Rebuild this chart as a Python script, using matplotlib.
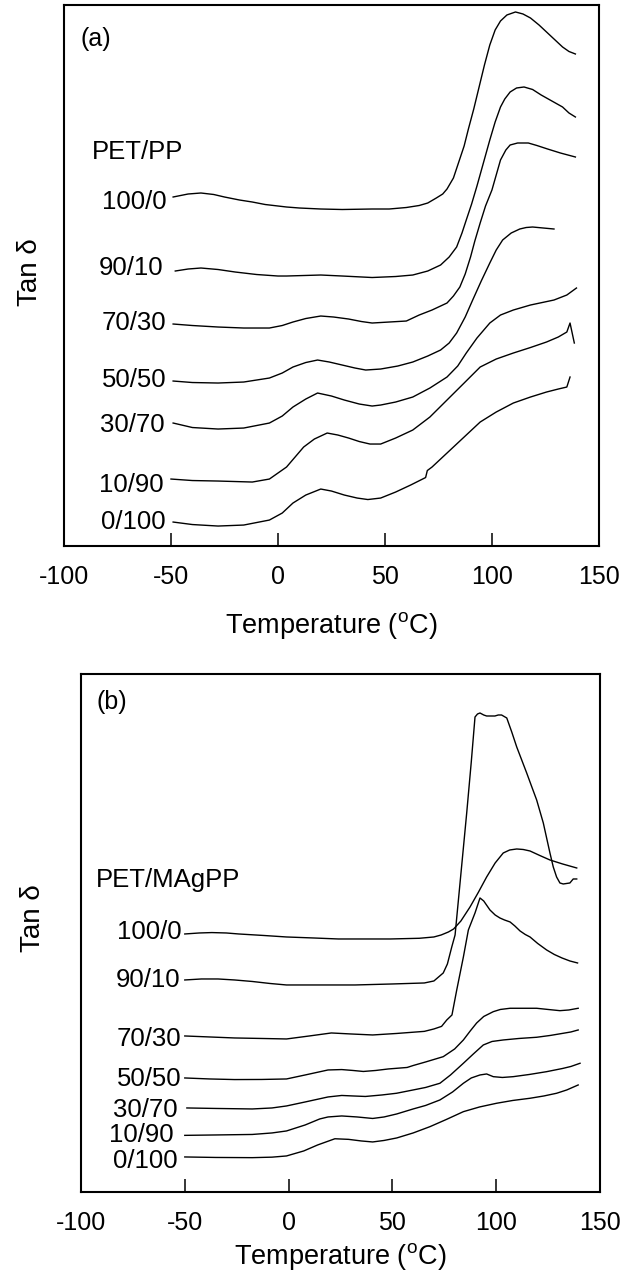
import numpy as np
import matplotlib
matplotlib.use('Agg')
import matplotlib.pyplot as plt

plt.rcParams['font.family'] = ['Liberation Sans', 'DejaVu Sans']
plt.rcParams['mathtext.fontset'] = 'custom'
plt.rcParams['mathtext.rm'] = 'Liberation Sans'
plt.rcParams['axes.unicode_minus'] = False

blends = ['100/0', '90/10', '70/30', '50/50', '30/70', '10/90', '0/100']

# (a) PET/PP  -- temperature (C) and offset tan delta (arbitrary units)
temp_a = [
    [-49, -42, -36, -30, -25, -18, -12, -6, 0, 4, 10, 20, 30, 44, 52, 60, 66, 70, 74, 77, 79, 82,
     84.5, 87, 89, 91.5, 94, 96.5, 99, 101.5, 104, 107, 111, 114.5, 118, 122, 126, 130, 133, 136, 139],
    [-48, -42, -36, -28, -20, -10, 0, 4, 12, 20, 30, 44, 55, 63, 70, 76, 80, 83.5, 86, 88, 90.5,
     93, 96, 99, 101.5, 104, 106, 108.5, 111.5, 115, 119, 123, 128, 133, 136, 139],
    [-49, -40, -28, -16, -4, 2, 7, 13, 20, 26, 33, 39, 44, 52, 60, 66, 72, 79, 82, 85, 87.5, 90,
     92, 94.5, 97, 100, 102, 104, 106.5, 108.5, 112, 117, 121, 126, 132, 139],
    [-49, -40, -28, -16, -4, 2, 7, 13, 18.5, 24, 30, 36, 41, 48, 56, 63, 70, 76, 80, 83.5, 87.5,
     91, 95, 99, 102, 105, 109, 113, 116, 119, 124, 129],
    [-49, -40, -28, -16, -4, 2, 7, 13, 18.5, 25, 31, 38, 44, 48, 55, 63, 71, 79, 84, 88, 93, 99,
     104, 110, 118, 129, 135, 139.5],
    [-50, -40, -28, -12, -4, 4, 8, 12, 17, 23, 28, 33, 38, 43, 48, 55, 63, 71, 79, 87, 94.5, 102,
     110, 118, 125.5, 131, 135, 136.5, 138.5],
    [-49, -40, -28, -16, -4, 2, 7, 13, 20, 25, 31, 37, 42, 48, 55, 62, 69, 69.8, 72, 79, 87, 94.5,
     102, 110, 118, 125.5, 131, 135, 136.5],
]
tand_a = [
    [349, 352, 353, 351.5, 349, 346, 344, 341.5, 340, 339, 338, 337, 336.5, 337, 337, 338.5, 340.5,
     343, 348, 352, 357, 368, 384, 400, 417, 437, 459, 481, 501, 516, 525, 531, 534, 532, 528, 521,
     513, 505, 499, 494.5, 492],
    [275, 277, 278, 276.5, 274, 271.5, 270, 270, 270.5, 271, 270, 268.5, 269.5, 271, 275, 281, 289,
     299, 313, 326, 342, 360, 383, 406, 424, 439, 447, 454, 458, 459, 456.5, 451, 445, 439, 433, 429],
    [222, 220.5, 219, 218, 218, 220.5, 224, 227.5, 230, 229, 227, 224.5, 223, 224, 225, 231, 236,
     243, 250, 259, 272, 289, 305, 323, 340, 356, 371, 386, 396, 401, 403, 403, 400.5, 397, 393, 389],
    [165, 163.5, 163, 164, 168, 173, 179, 183.5, 186, 184, 181, 178, 176, 177, 180, 184, 190, 196,
     203, 213, 229, 246, 265, 283, 296, 306, 313, 317, 318.5, 319, 318, 317],
    [123, 118.5, 117, 118, 123, 130, 139, 147, 153, 150, 146, 142, 140, 141, 144, 149, 158, 169,
     180, 193, 208, 223, 231, 236, 241, 246, 251, 258],
    [67, 65.5, 65, 64, 67, 79, 89, 99, 107, 113, 111, 108, 104.5, 102, 102, 108, 116, 129, 146, 163,
     179, 187, 193, 198.5, 204, 209, 214, 223, 203],
    [24, 21.5, 20, 21, 26, 33, 43, 51, 57, 55, 51, 48, 46.5, 48, 54, 61, 68.5, 75.5, 79, 93, 109,
     124, 134, 143, 149, 154, 157, 159, 169],
]

# (b) PET/MAgPP
temp_b = [
    [-50, -43, -37, -30, -24, -12, -1, 12, 24, 36, 49, 63, 70, 73.5, 77, 79.5, 83, 87.4, 91.5, 95.4,
     99.5, 103.4, 106.5, 109.9, 113, 116.3, 121, 125.9, 132, 138.8],
    [-50, -42, -34, -26, -17.5, -9, -1, 15, 32, 50, 65.4, 70, 74.5, 76.5, 78.6, 80.2, 83, 85.8, 88,
     89.8, 91, 92.2, 94, 95.4, 97.5, 99.4, 101, 102.6, 105.1, 107.5, 109.9, 112.3, 114.7, 117, 119.5,
     122.7, 125.9, 127.5, 129.1, 130.7, 132.3, 135.5, 137.1, 138.8],
    [-50, -38, -26, -13, -1, 10, 20.6, 30, 40.5, 52, 65.4, 70, 73.7, 76.2, 78.7, 81, 84.2, 86.6,
     89.8, 92.2, 94, 97, 99.5, 101.8, 104, 106.7, 109, 111.5, 114, 116.3, 120, 124.3, 128, 131.7,
     135.5, 139.2],
    [-50, -38, -26, -13, -1, 8, 19, 25.6, 31, 36, 42, 48, 57.1, 60.1, 66, 74.5, 80, 84.2, 87.5,
     90.6, 94, 98.6, 102, 106.7, 113, 119.5, 125, 130.7, 135, 139.5],
    [-49, -35, -17.5, -8, -1, 8, 19, 25.6, 31, 37, 45, 52, 60, 66, 72.9, 78, 84.2, 89, 93.8, 98,
     103.4, 111, 119.5, 126, 132.3, 136, 139.5],
    [-50, -35, -17.5, -8, -1, 8, 15, 19, 25.6, 33, 40.5, 46, 52.1, 60, 66, 72.9, 79, 84.2, 88, 92.2,
     95.4, 98.6, 103, 108.2, 116, 124.3, 132, 136, 140.4],
    [-50, -35, -17.5, -8, -1, 7.3, 14, 22.3, 28.9, 35, 40.5, 46, 52.1, 60, 68.1, 76, 84.2, 92, 100.2,
     108, 116.3, 123, 129.1, 134, 139.5],
]
tand_b = [
    [258, 259, 259.4, 259, 258, 256.5, 255, 254, 253, 253, 253, 253.7, 255, 257, 260, 263, 271, 285,
     300, 315, 329, 339, 342, 343, 342.5, 341, 336.5, 332, 328, 324],
    [212, 213, 213, 212, 210.5, 208.5, 207, 207, 207, 208, 209, 211, 219, 228, 245, 257, 318, 379,
     430, 475, 478, 479, 477, 476, 476, 476, 477, 477, 474, 460, 445, 432, 419, 406, 392, 369, 339,
     325, 315, 309, 308, 309, 313, 313],
    [156, 155, 154, 153.5, 153, 156, 159, 158, 157, 158.5, 160.6, 163, 165.6, 172, 177, 202, 235,
     262, 279, 294, 291, 282, 277, 274, 272, 270, 266, 261, 257.5, 255, 248.5, 242, 237.5, 234, 231,
     229],
    [114, 113, 112.4, 112.5, 113, 117, 122, 122.4, 121.5, 120.5, 121.5, 123, 124.5, 126.5, 130, 135.3,
     143, 152, 161, 169, 175.5, 180.3, 182.5, 183.7, 183.7, 183.7, 182.5, 181.3, 182, 183.7],
    [84, 83.5, 83, 84, 86, 90, 95, 96.5, 96, 95.5, 97, 98.7, 102, 104.5, 108.7, 117, 128.7, 138,
     147, 150.5, 152, 153.5, 154.7, 156.5, 158.7, 160, 162],
    [56.6, 57, 57.5, 59, 61, 67, 73, 75, 76, 75, 73.5, 75, 78, 83, 86.5, 92, 100, 108.7, 114, 117,
     118, 115.3, 114.5, 115.3, 117.5, 120.3, 123.5, 125.5, 128.7],
    [35, 34.5, 34.3, 34.8, 36, 41, 47, 53.2, 52.6, 51, 50, 51.5, 54, 59, 65.3, 72.5, 80.3, 85, 88.7,
     91.5, 93.7, 96, 98.7, 102, 107],
]

xticks = [-100, -50, 0, 50, 100, 150]

fig = plt.figure(figsize=(6.22, 12.77), dpi=100)
ax_a = fig.add_axes([0.1029, 0.5724, 0.860, 0.4237])
ax_b = fig.add_axes([0.1302, 0.0666, 0.8344, 0.4056])

panels = [
    (ax_a, temp_a, tand_a, 541, 'PET/PP', (-87, 394), '(a)', (-92.5, 507),
     [344, 278, 223, 166, 121, 61, 24], [-52, -53.5, -52, -52, -53, -53.5, -52.5],
     (-0.039, 0.506), 15),
    (ax_b, temp_b, tand_b, 518, 'PET/MAgPP', (-93, 312), '(b)', (-92.5, 490),
     [260, 212, 153, 113, 82, 57, 31], [-51.5, -52, -51.5, -51.5, -53.5, -55.3, -53.5],
     (-0.067, 0.529), 4),
]

for ax, temps, vals, ytop, head, head_xy, tag, tag_xy, lab_y, lab_x, ylab_xy, lpad in panels:
    for t, v in zip(temps, vals):
        ax.plot(t, v, color='black', lw=1.0)
    for name, lx, ly in zip(blends, lab_x, lab_y):
        ax.text(lx, ly, name, ha='right', va='center', fontsize=18.5)
    ax.text(head_xy[0], head_xy[1], head, ha='left', va='center', fontsize=18.5)
    ax.text(tag_xy[0], tag_xy[1], tag, ha='left', va='center', fontsize=18)

    ax.set_xlim(-100, 150)
    ax.set_ylim(0, ytop)
    ax.set_xticks(xticks)
    ax.set_yticks([])
    ax.tick_params(axis='x', direction='in', length=9.5, width=1.1, pad=14, labelsize=18)
    for s in ax.spines.values():
        s.set_linewidth(1.5)
    ax.set_xlabel(r'Temperature ($\mathregular{^{o}}$C)', fontsize=19.5, labelpad=lpad)
    ax.set_ylabel('Tan δ', fontsize=20)
    ax.yaxis.set_label_coords(*ylab_xy)

fig.savefig('out.png', dpi=100)
